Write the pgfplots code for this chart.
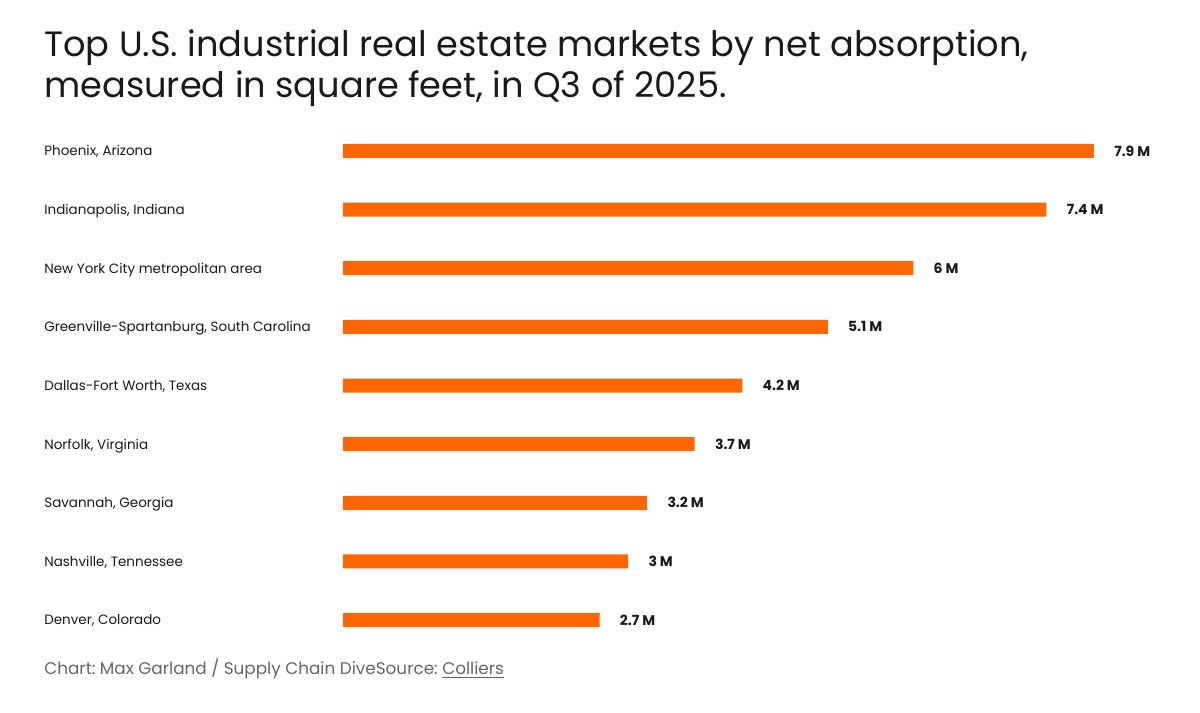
\documentclass[border=0pt]{standalone}
\usepackage{fontspec}
\setmainfont{Poppins}
\usepackage{pgfplots}
\pgfplotsset{compat=1.18}
\usepackage{pgfplotstable}
\definecolor{barorange}{HTML}{FF6600}
\definecolor{txt}{HTML}{1A1A1A}
\definecolor{foot}{HTML}{666666}
\frenchspacing
\pgfplotstableread{
i v
0 2.7
1 3.0
2 3.2
3 3.7
4 4.2
5 5.1
6 6.0
7 7.4
8 7.9
}\datatable
\begin{document}
\begin{tikzpicture}
\begin{scope}[x=0.6pt,y=0.6pt]
\fill[white] (0,0) rectangle (1200,712);
\node[anchor=base west,inner sep=0,text=txt,font=\fontsize{21.1pt}{24pt}\selectfont] at (44,655) {Top U.S. industrial real estate markets by net absorption,};
\node[anchor=base west,inner sep=0,text=txt,font=\fontsize{21.1pt}{24pt}\selectfont] at (44,614) {measured in square feet, in Q3 of 2025.};
\foreach \lab [count=\k from 0] in {Denver{,} Colorado,Nashville{,} Tennessee,Savannah{,} Georgia,Norfolk{,} Virginia,Dallas-Fort Worth{,} Texas,Greenville-Spartanburg{,} South Carolina,New York City metropolitan area,Indianapolis{,} Indiana,Phoenix{,} Arizona}{
  \pgfmathsetmacro{\yy}{92+58.625*\k-5}
  \node[anchor=base west,inner sep=0,text=txt,font=\fontsize{8.1pt}{10pt}\selectfont] at (44,\yy) {\lab};
}
\node[anchor=base west,inner sep=0,text=foot,font=\fontsize{10.1pt}{12pt}\selectfont] at (44,37) {Chart: Max Garland / Supply Chain DiveSource: \underline{Colliers}};
\end{scope}
\begin{axis}[
  at={(205.8pt,37.6pt)}, anchor=south west,
  scale only axis, width=570.36pt, height=316.6pt,
  hide axis, clip=false,
  xbar, bar width=8.4pt,
  xmin=0, xmax=10, ymin=-0.5, ymax=8.5,
  point meta=x,
  nodes near coords={\pgfmathprintnumber{\pgfplotspointmeta}~M},
  nodes near coords style={anchor=west,inner sep=0pt,xshift=12pt,text=txt,font=\fontsize{8.4pt}{10pt}\selectfont\bfseries,/pgf/number format/assume math mode=true},
]
\addplot[fill=barorange,draw=none] table[x=v,y=i] {\datatable};
\end{axis}
\end{tikzpicture}
\end{document}
